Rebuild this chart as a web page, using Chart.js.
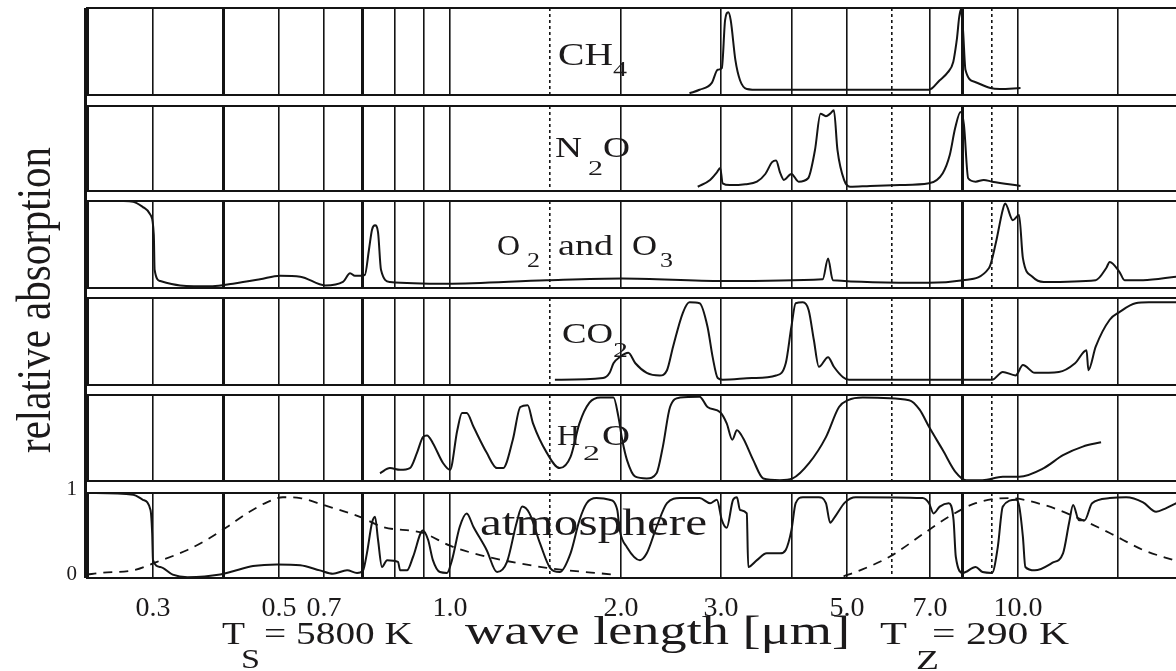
<!DOCTYPE html>
<html>
<head>
<meta charset="utf-8">
<title>Relative absorption of atmospheric gases</title>
<script src="https://cdn.jsdelivr.net/npm/chart.js@4.4.1/dist/chart.umd.min.js"></script>
<style>
html, body { margin:0; padding:0; background:#ffffff; }
#wrap { position:relative; width:1176px; height:671px; overflow:hidden; background:#ffffff; }
#wrap canvas { position:absolute; left:0; top:0; }
</style>
</head>
<body>
<div id="wrap">
<canvas id="p0" width="1176" height="671"></canvas>
<canvas id="p1" width="1176" height="671"></canvas>
<canvas id="p2" width="1176" height="671"></canvas>
<canvas id="p3" width="1176" height="671"></canvas>
<canvas id="p4" width="1176" height="671"></canvas>
<canvas id="p5" width="1176" height="671"></canvas>
</div>
<script>
// ---------------- data ----------------
// wavelengths in micrometres, values as relative absorption 0..1 in each panel

const ch4Wave = [2.64, 2.75, 2.89, 2.96, 3.01, 3.05, 3.09, 3.12, 3.18, 3.24, 3.33, 3.51, 4.5, 5.5, 6.97, 7.28, 7.52, 7.69, 7.80, 7.92, 8.00, 8.08, 8.40, 8.94, 9.29, 10.1];
const ch4Abs  = [0.02, 0.06, 0.14, 0.29, 0.31, 0.86, 0.95, 0.86, 0.40, 0.17, 0.07, 0.06, 0.06, 0.06, 0.06, 0.17, 0.26, 0.38, 0.63, 0.98, 0.75, 0.29, 0.15, 0.08, 0.07, 0.08];

const n2oWave = [2.73, 2.87, 2.95, 2.99, 3.02, 3.11, 3.31, 3.47, 3.59, 3.69, 3.75, 3.81, 3.87, 3.99, 4.11, 4.27, 4.39, 4.49, 4.59, 4.67, 4.74, 4.81, 4.94, 5.06, 5.49, 6.20, 6.97, 7.37, 7.58, 7.75, 7.92, 8.03, 8.17, 8.42, 8.70, 9.0, 10.1];
const n2oAbs  = [0.05, 0.13, 0.22, 0.27, 0.09, 0.07, 0.08, 0.11, 0.20, 0.34, 0.36, 0.22, 0.13, 0.20, 0.11, 0.15, 0.48, 0.91, 0.88, 0.91, 0.95, 0.48, 0.13, 0.05, 0.06, 0.07, 0.09, 0.21, 0.42, 0.74, 0.93, 0.78, 0.15, 0.11, 0.13, 0.11, 0.06];

const o3Wave = [0.263, 0.277, 0.288, 0.297, 0.301, 0.302, 0.309, 0.335, 0.382, 0.415, 0.463, 0.502, 0.545, 0.603, 0.648, 0.667, 0.680, 0.708, 0.720, 0.729, 0.738, 0.747, 0.756, 0.784, 0.988, 1.48, 2.01, 3.02, 4.53, 4.63, 4.72, 6.97, 8.0, 8.89, 9.14, 9.40, 9.49, 9.79, 10.04, 10.2, 10.6, 11.1, 13.7, 14.3, 14.5, 15.1, 15.4, 16.6, 19.0];
const o3Abs  = [1.0, 0.99, 0.93, 0.84, 0.61, 0.21, 0.08, 0.03, 0.02, 0.05, 0.10, 0.14, 0.13, 0.03, 0.07, 0.17, 0.14, 0.15, 0.44, 0.67, 0.72, 0.64, 0.21, 0.07, 0.05, 0.09, 0.11, 0.08, 0.10, 0.34, 0.09, 0.06, 0.09, 0.23, 0.52, 0.90, 0.97, 0.78, 0.84, 0.34, 0.13, 0.07, 0.09, 0.23, 0.30, 0.18, 0.09, 0.09, 0.13];

const co2Wave = [1.53, 1.86, 1.91, 1.94, 1.99, 2.06, 2.12, 2.22, 2.34, 2.41, 2.47, 2.57, 2.64, 2.75, 2.84, 2.90, 2.96, 3.02, 3.4, 3.75, 3.90, 3.99, 4.06, 4.18, 4.28, 4.37, 4.46, 4.63, 4.74, 4.92, 5.04, 9.0, 9.4, 9.9, 10.2, 10.7, 11.8, 12.6, 13.2, 13.3, 13.7, 14.5, 15.1, 16.1, 17.0, 19.0];
const co2Abs  = [0.06, 0.08, 0.14, 0.25, 0.32, 0.37, 0.25, 0.14, 0.11, 0.17, 0.44, 0.83, 0.95, 0.94, 0.67, 0.32, 0.08, 0.06, 0.08, 0.11, 0.25, 0.67, 0.94, 0.95, 0.86, 0.52, 0.21, 0.32, 0.21, 0.09, 0.06, 0.06, 0.15, 0.11, 0.23, 0.14, 0.15, 0.25, 0.40, 0.17, 0.44, 0.75, 0.84, 0.94, 0.95, 0.95];

const h2oWave = [0.753, 0.784, 0.817, 0.850, 0.875, 0.896, 0.911, 0.933, 0.972, 1.0, 1.03, 1.05, 1.07, 1.10, 1.16, 1.21, 1.24, 1.29, 1.33, 1.37, 1.40, 1.48, 1.56, 1.63, 1.69, 1.76, 1.84, 1.94, 1.98, 2.01, 2.05, 2.12, 2.22, 2.31, 2.37, 2.44, 2.54, 2.75, 2.84, 2.99, 3.07, 3.14, 3.20, 3.28, 3.42, 3.56, 3.81, 4.01, 4.29, 4.59, 4.84, 5.02, 5.33, 6.43, 6.71, 6.97, 7.37, 7.77, 8.10, 8.66, 9.40, 10.05, 11.1, 12.0, 13.0, 14.0];
const h2oAbs  = [0.09, 0.15, 0.13, 0.15, 0.33, 0.51, 0.53, 0.44, 0.21, 0.13, 0.59, 0.79, 0.79, 0.63, 0.33, 0.15, 0.15, 0.48, 0.86, 0.88, 0.67, 0.33, 0.15, 0.28, 0.67, 0.91, 0.97, 0.97, 0.74, 0.48, 0.24, 0.05, 0.03, 0.09, 0.40, 0.86, 0.97, 0.98, 0.86, 0.80, 0.67, 0.48, 0.59, 0.50, 0.24, 0.03, 0.01, 0.03, 0.21, 0.51, 0.86, 0.94, 0.97, 0.94, 0.83, 0.63, 0.36, 0.10, 0.01, 0.01, 0.05, 0.05, 0.15, 0.30, 0.40, 0.45];

const atmWave = [0.230, 0.277, 0.288, 0.297, 0.299, 0.300, 0.309, 0.325, 0.345, 0.394, 0.415, 0.450, 0.496, 0.545, 0.590, 0.622, 0.659, 0.686, 0.703, 0.714, 0.729, 0.738, 0.747, 0.759, 0.775, 0.810, 0.817, 0.840, 0.861, 0.896, 0.915, 0.933, 0.960, 0.988, 1.008, 1.04, 1.07, 1.10, 1.16, 1.21, 1.26, 1.31, 1.34, 1.38, 1.44, 1.50, 1.56, 1.63, 1.69, 1.74, 1.81, 1.91, 1.97, 1.99, 2.05, 2.16, 2.22, 2.31, 2.41, 2.54, 2.75, 2.87, 2.95, 3.01, 3.07, 3.15, 3.20, 3.24, 3.33, 3.35, 3.47, 3.61, 3.81, 3.90, 3.99, 4.06, 4.18, 4.46, 4.59, 4.67, 4.76, 4.96, 5.18, 6.79, 6.97, 7.10, 7.28, 7.55, 7.70, 7.77, 8.00, 8.42, 8.66, 9.00, 9.21, 9.40, 9.92, 10.05, 10.2, 10.3, 10.7, 11.5, 12.0, 12.3, 12.5, 12.8, 13.1, 13.5, 14.5, 15.5, 16.6, 17.5, 18.2, 19.0];
const atmAbs  = [1.0, 0.98, 0.92, 0.80, 0.53, 0.21, 0.13, 0.04, 0.01, 0.04, 0.08, 0.14, 0.16, 0.15, 0.09, 0.05, 0.09, 0.06, 0.09, 0.29, 0.65, 0.72, 0.45, 0.13, 0.21, 0.19, 0.09, 0.09, 0.25, 0.56, 0.45, 0.21, 0.07, 0.06, 0.21, 0.60, 0.76, 0.60, 0.33, 0.07, 0.19, 0.65, 0.84, 0.76, 0.41, 0.12, 0.07, 0.29, 0.68, 0.88, 0.94, 0.92, 0.80, 0.56, 0.36, 0.21, 0.29, 0.60, 0.88, 0.94, 0.94, 0.88, 0.92, 0.68, 0.59, 0.92, 0.95, 0.80, 0.76, 0.13, 0.21, 0.29, 0.29, 0.33, 0.56, 0.88, 0.95, 0.95, 0.88, 0.65, 0.72, 0.89, 0.95, 0.94, 0.88, 0.76, 0.84, 0.88, 0.68, 0.25, 0.06, 0.13, 0.07, 0.06, 0.36, 0.84, 0.92, 0.84, 0.48, 0.13, 0.09, 0.18, 0.29, 0.65, 0.86, 0.68, 0.68, 0.88, 0.94, 0.95, 0.89, 0.78, 0.82, 0.88];

// black-body curves (dashed), T_S = 5800 K and T_Z = 290 K, relative intensity
const sunWave = [0.230, 0.242, 0.277, 0.305, 0.345, 0.373, 0.405, 0.439, 0.476, 0.508, 0.545, 0.598, 0.694, 0.762, 0.896, 1.0, 1.13, 1.48, 1.94];
const sunRel  = [0.04, 0.06, 0.09, 0.19, 0.33, 0.45, 0.60, 0.76, 0.89, 0.95, 0.94, 0.86, 0.72, 0.60, 0.53, 0.38, 0.27, 0.12, 0.04];
const earthWave = [4.93, 5.27, 5.94, 6.88, 7.55, 8.42, 9.62, 11.1, 12.6, 14.5, 16.6, 19.0];
const earthRel  = [0.02, 0.09, 0.25, 0.54, 0.72, 0.88, 0.94, 0.86, 0.72, 0.53, 0.33, 0.20];

// axis values and tick labels
const gridWaves = [0.3, 0.4, 0.5, 0.6, 0.7, 0.8, 0.9, 1.0, 1.5, 2.0, 3.0, 4.0, 5.0, 6.0, 7.0, 8.0, 9.0, 10.0, 15.0];
const thickGridWaves = [0.4, 0.7, 8.0];
const dashedGridWaves = [1.5, 6.0, 9.0];
const tickWaves  = [0.3, 0.5, 0.6, 1.0, 2.0, 3.0, 5.0, 7.0, 10.0];
const tickLabels = ["0.3", "0.5", "0.7", "1.0", "2.0", "3.0", "5.0", "7.0", "10.0"];
const yTickValues = [0, 1];
const yTickLabels = ["0", "1"];
const X_MIN = 0.2296, X_MAX = 18.97;

// ---------------- layout / style ----------------
const W = 1176, H = 671, LEFT = 87, LABEL_AXIS_H = 93;
const PANEL_TOP    = [8, 106, 201, 298, 395, 493];
const PANEL_BOTTOM = [95, 191, 288, 385, 481, 578];
const INK = '#141414';
const SERIF = '"Liberation Serif", "Times New Roman", serif';

const toPts = (w, v) => w.map((x, i) => ({ x: x, y: v[i] }));
const solidLine = (w, v) => ({ data: toPts(w, v), borderColor: INK, borderWidth: 2, pointRadius: 0, fill: false, cubicInterpolationMode: 'monotone' });
const dashedLine = (w, v) => ({ data: toPts(w, v), borderColor: INK, borderWidth: 1.8, borderDash: [9, 7], pointRadius: 0, fill: false, cubicInterpolationMode: 'monotone' });

const panelSeries = [
  [solidLine(ch4Wave, ch4Abs)],
  [solidLine(n2oWave, n2oAbs)],
  [solidLine(o3Wave, o3Abs)],
  [solidLine(co2Wave, co2Abs)],
  [solidLine(h2oWave, h2oAbs)],
  [solidLine(atmWave, atmAbs), dashedLine(sunWave, sunRel), dashedLine(earthWave, earthRel)]
];

// text pieces: [text, x, baseline, font size, target width]
const panelTexts = [
  [["CH", 558, 65, 31, 55], ["4", 613, 76, 22, 14]],
  [["N", 555, 157, 30, 27], ["2", 588, 175, 20, 15], ["O", 603, 157, 30, 27]],
  [["O", 497, 255, 30, 23], ["2", 527, 267, 20, 13], ["and", 558, 255, 30, 55], ["O", 632, 255, 30, 25], ["3", 660, 267, 20, 13]],
  [["CO", 562, 343, 30, 51], ["2", 613, 357, 22, 15]],
  [["H", 557, 445, 30, 23], ["2", 583, 460, 20, 17], ["O", 602, 445, 30, 28]],
  [["atmosphere", 480, 535, 38, 227],
   ["T", 222, 644, 31, 23], ["S", 241, 668, 28, 19], ["= 5800 K", 264, 644, 31, 149],
   ["wave length [\u03bcm]", 465, 644, 40, 385],
   ["T", 880, 644, 31, 27], ["Z", 916, 669, 28, 23], ["= 290 K", 932, 644, 31, 137]]
];
const yTitle = "relative absorption";

function makeTextPlugin(items, extra, frame) {
  return {
    id: 'panelText',
    afterDraw(chart) {
      const ctx = chart.ctx;
      if (frame) {
        // continuous left frame line through the gaps between panels
        ctx.save();
        ctx.strokeStyle = INK;
        ctx.lineWidth = 3;
        ctx.beginPath();
        ctx.moveTo(chart.chartArea.left - 1.5, PANEL_TOP[0]);
        ctx.lineTo(chart.chartArea.left - 1.5, chart.chartArea.bottom);
        ctx.stroke();
        ctx.restore();
      }
      items.forEach(it => {
        const [text, x, y, size, width] = it;
        ctx.save();
        ctx.font = size + 'px ' + SERIF;
        ctx.fillStyle = '#1c1a1b';
        ctx.textAlign = 'left';
        ctx.textBaseline = 'alphabetic';
        const w = ctx.measureText(text).width;
        ctx.translate(x, y);
        ctx.scale(width / w, 1);
        ctx.fillText(text, 0, 0);
        ctx.restore();
      });
      if (extra) {
        ctx.save();
        ctx.font = '41px ' + SERIF;
        ctx.fillStyle = '#1c1a1b';
        ctx.textAlign = 'center';
        ctx.textBaseline = 'alphabetic';
        const w = ctx.measureText(extra).width;
        ctx.translate(50, 300);
        ctx.rotate(-Math.PI / 2);
        ctx.scale(306 / w, 1.2);
        ctx.fillText(extra, 0, 0);
        ctx.restore();
      }
    }
  };
}

function makeScales(isLast) {
  const scales = {
    x: {
      type: 'logarithmic', position: 'bottom', min: X_MIN, max: X_MAX,
      afterBuildTicks: s => { s.ticks = gridWaves.map(v => ({ value: v })); },
      afterFit: s => { s.height = 0; },
      ticks: { display: false },
      grid: {
        drawTicks: false, color: INK,
        lineWidth: c => (c.tick && thickGridWaves.includes(c.tick.value)) ? 3 : 1.6
      },
      border: {
        display: false,
        dash: c => (c.tick && dashedGridWaves.includes(c.tick.value)) ? [3, 3] : []
      }
    },
    y: {
      type: 'linear', position: 'left', min: 0, max: 1,
      afterBuildTicks: s => { s.ticks = yTickValues.map(v => ({ value: v })); },
      afterFit: s => { s.width = LEFT; },
      ticks: {
        display: isLast, padding: 10, labelOffset: -4, color: '#1c1a1b',
        font: { family: SERIF, size: 21 },
        callback: (v, i) => yTickLabels[i]
      },
      grid: { drawTicks: false, color: INK, lineWidth: 2 },
      border: { display: true, color: INK, width: 3 }
    }
  };
  if (isLast) {
    scales.xl = {
      type: 'logarithmic', position: 'bottom', min: X_MIN, max: X_MAX,
      afterBuildTicks: s => { s.ticks = tickWaves.map(v => ({ value: v })); },
      afterFit: s => { s.height = LABEL_AXIS_H; },
      grid: { display: false, drawTicks: false },
      border: { display: false },
      ticks: {
        autoSkip: false, maxRotation: 0, minRotation: 0, padding: 14, color: '#1c1a1b',
        font: { family: SERIF, size: 28 },
        callback: (v, i) => tickLabels[i]
      }
    };
  }
  return scales;
}

for (let p = 0; p < 6; p++) {
  const isLast = (p === 5);
  new Chart(document.getElementById('p' + p), {
    type: 'line',
    data: { datasets: panelSeries[p] },
    options: {
      responsive: false,
      maintainAspectRatio: false,
      animation: false,
      events: [],
      layout: { padding: { left: 0, right: 0, top: PANEL_TOP[p], bottom: H - PANEL_BOTTOM[p] - (isLast ? LABEL_AXIS_H : 0) } },
      plugins: { legend: { display: false }, tooltip: { enabled: false }, title: { display: false } },
      scales: makeScales(isLast)
    },
    plugins: [makeTextPlugin(panelTexts[p], p === 2 ? yTitle : null, isLast)]
  });
}
</script>
</body>
</html>
